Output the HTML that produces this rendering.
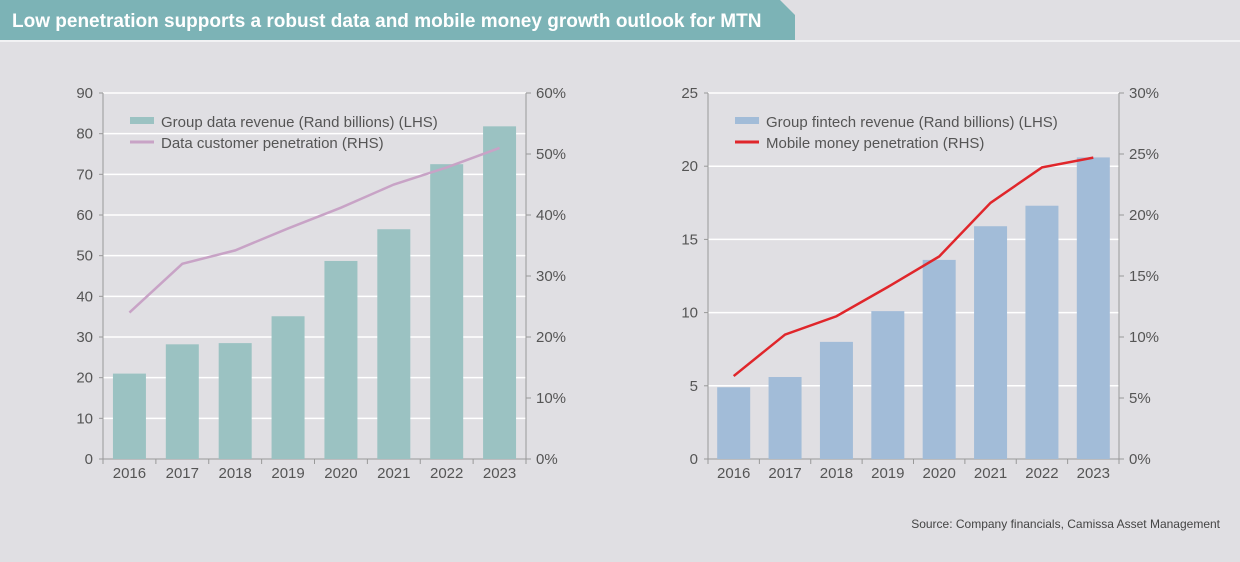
<!DOCTYPE html>
<html><head><meta charset="utf-8"><style>
body{margin:0;width:1240px;height:562px;background:#e0dfe3;font-family:"Liberation Sans",sans-serif;overflow:hidden;position:relative}
svg text{font-family:"Liberation Sans",sans-serif}
</style></head><body>
<svg width="1240" height="562" style="position:absolute;left:0;top:0">
<rect x="0" y="40" width="1240" height="2" fill="#f2f2f4"/>
<polygon points="0,0 780,0 795,15 795,40 0,40" fill="#7cb3b6"/>
<text x="12" y="27" font-size="19" font-weight="bold" fill="#fff">Low penetration supports a robust data and mobile money growth outlook for MTN</text>
<g id="left"></g><g id="right"></g>
<text x="1220" y="528" font-size="12" fill="#444" text-anchor="end">Source: Company financials, Camissa Asset Management</text>
</svg>
<script>
const years=["2016","2017","2018","2019","2020","2021","2022","2023"];
const dataRevenue=[21,28.2,28.5,35.1,48.7,56.5,72.5,81.8];
const dataPenetration=[24,32,34.2,37.8,41.2,45,47.8,51];
const fintechRevenue=[4.9,5.6,8,10.1,13.6,15.9,17.3,20.6];
const mobileMoneyPen=[6.8,10.2,11.7,14.1,16.6,21,23.9,24.7];
const leftTicks=[0,10,20,30,40,50,60,70,80,90];
const leftPctTicks=[0,10,20,30,40,50,60];
const rightTicks=[0,5,10,15,20,25];
const rightPctTicks=[0,5,10,15,20,25,30];
const NS="http://www.w3.org/2000/svg";
function mk(g,t,a,txt){const e=document.createElementNS(NS,t);for(const k in a)e.setAttribute(k,a[k]);if(txt!==undefined)e.textContent=txt;g.appendChild(e);return e;}
function draw(gid,o){
 const g=document.getElementById(gid);
 const x0=o.x0,x1=o.x1,yTop=93,yBot=459;
 const yL=v=>yBot-(v/o.lmax)*(yBot-yTop);
 const yR=v=>yBot-(v/o.rmax)*(yBot-yTop);
 const bw=(x1-x0)/years.length;
 const cx=i=>x0+bw*(i+0.5);
 o.lt.forEach(t=>{
  let l=mk(g,'line',{x1:x0,x2:x1,y1:yL(t),y2:yL(t),stroke:t===0?'#999':'#fff','stroke-width':t===0?1:1.5});
  
  let tx=mk(g,'text',{x:x0-10,y:yL(t)+5,'font-size':15,fill:'#555','text-anchor':'end'},String(t));
  
  mk(g,'line',{x1:x0-4,x2:x0,y1:yL(t),y2:yL(t),stroke:'#999'});
 });
 o.rt.forEach(t=>{
  let tx=mk(g,'text',{x:x1+10,y:yR(t)+5,'font-size':15,fill:'#555'},t+'%');
  
  mk(g,'line',{x1:x1,x2:x1+5,y1:yR(t),y2:yR(t),stroke:'#999'});
 });
 mk(g,'line',{x1:x0,x2:x0,y1:yTop,y2:yBot,stroke:'#999'});
 mk(g,'line',{x1:x1,x2:x1,y1:yTop,y2:yBot,stroke:'#999'});
 o.bars.forEach((v,i)=>{
  let r=mk(g,'rect',{x:cx(i)-16.5,y:yL(v),width:33,height:yBot-yL(v),fill:o.bc});
  
 });
 for(let i=0;i<=years.length;i++)mk(g,'line',{x1:x0+bw*i,x2:x0+bw*i,y1:yBot,y2:yBot+5,stroke:'#999'});
 years.forEach((y,i)=>{
  let tx=mk(g,'text',{x:cx(i),y:478,'font-size':15,fill:'#555','text-anchor':'middle'},y);
  
 });
 let p=mk(g,'polyline',{points:o.line.map((v,i)=>cx(i)+','+yR(v)).join(' '),fill:'none',stroke:o.lc,'stroke-width':o.lw});
 
 let lx=x0+27;
 mk(g,'rect',{x:lx,y:117,width:24,height:7,fill:o.bc});
 let t1=mk(g,'text',{x:lx+31,y:127,'font-size':15,fill:'#555'},o.l1);
 
 mk(g,'line',{x1:lx,x2:lx+24,y1:142,y2:142,stroke:o.lc,'stroke-width':3});
 let t2=mk(g,'text',{x:lx+31,y:148,'font-size':15,fill:'#555'},o.l2);
 
}
draw('left',{x0:103,x1:526,lmax:90,rmax:60,lt:leftTicks,rt:leftPctTicks,bars:dataRevenue,line:dataPenetration,bc:'#9bc2c2',lc:'#c8a3c6',lw:2.5,l1:'Group data revenue (Rand billions) (LHS)',l2:'Data customer penetration (RHS)'});
draw('right',{x0:708,x1:1119,lmax:25,rmax:30,lt:rightTicks,rt:rightPctTicks,bars:fintechRevenue,line:mobileMoneyPen,bc:'#a2bcd8',lc:'#e0262b',lw:2.5,l1:'Group fintech revenue (Rand billions) (LHS)',l2:'Mobile money penetration (RHS)'});
</script>
</body></html>
